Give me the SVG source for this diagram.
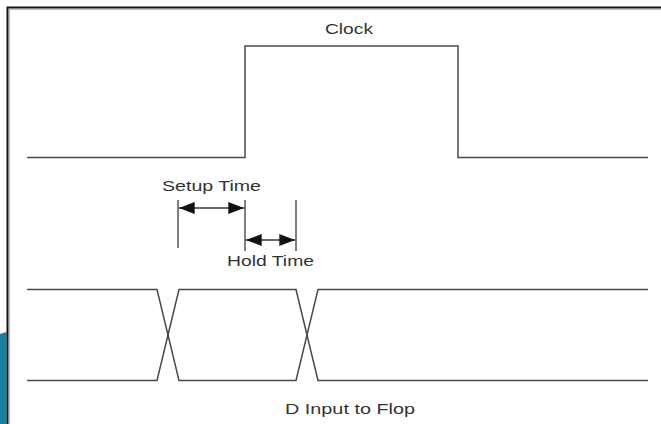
<svg xmlns="http://www.w3.org/2000/svg" width="661" height="424" viewBox="0 0 661 424">
<style>
.sig{fill:none;stroke:#4a4a4a;stroke-width:1.5}
.dim{fill:none;stroke:#3a3a3a;stroke-width:1.3}
.lbl{font-family:"Liberation Sans",Arial,sans-serif;font-size:15.5px;fill:#333}
</style>
<defs>
<marker id="ah" viewBox="0 0 16 12" refX="16" refY="6" markerWidth="16" markerHeight="12" markerUnits="userSpaceOnUse" orient="auto-start-reverse">
<path d="M0,0 L16,6 L0,12 Z" fill="#111"/>
</marker>
</defs>
<rect x="0" y="0" width="661" height="424" fill="#fff"/>
<path d="M0,334 Q3,333 6.5,332 L6.5,424 L0,424 Z" fill="#17809c"/>
<g id="frame">
<path d="M7.5,424 V7.5 H661" fill="none" stroke="#111" stroke-width="2"/>
<path d="M9.5,424 V9.5 H661" fill="none" stroke="#bbb" stroke-width="1"/>
</g>
<g id="clock">
<path class="sig" d="M27,157.5 H245 V46 H458 V157.5 H648"/>
<text class="lbl" x="325" y="34" textLength="48" lengthAdjust="spacingAndGlyphs">Clock</text>
</g>
<g id="d-input">
<path class="sig" d="M27,289.5 H157 L179,380.5 H296 L318,289.5 H648"/>
<path class="sig" d="M27,380.5 H157 L179,289.5 H296 L318,380.5 H648"/>
<text class="lbl" x="285" y="414" textLength="130" lengthAdjust="spacingAndGlyphs">D Input to Flop</text>
</g>
<g id="setup-time">
<text class="lbl" x="162" y="191" textLength="99" lengthAdjust="spacingAndGlyphs">Setup Time</text>
</g>
<g id="hold-time">
<text class="lbl" x="227" y="266" textLength="87" lengthAdjust="spacingAndGlyphs">Hold Time</text>
</g>
<g id="connectors">
<line class="dim" x1="178" y1="200" x2="178" y2="248"/>
<line class="dim" x1="245" y1="200" x2="245" y2="251"/>
<line class="dim" x1="296" y1="200" x2="296" y2="251"/>
<line class="dim" x1="178.7" y1="208" x2="244.3" y2="208" marker-start="url(#ah)" marker-end="url(#ah)"/>
<line class="dim" x1="245.7" y1="240" x2="295.3" y2="240" marker-start="url(#ah)" marker-end="url(#ah)"/>
</g>
</svg>
